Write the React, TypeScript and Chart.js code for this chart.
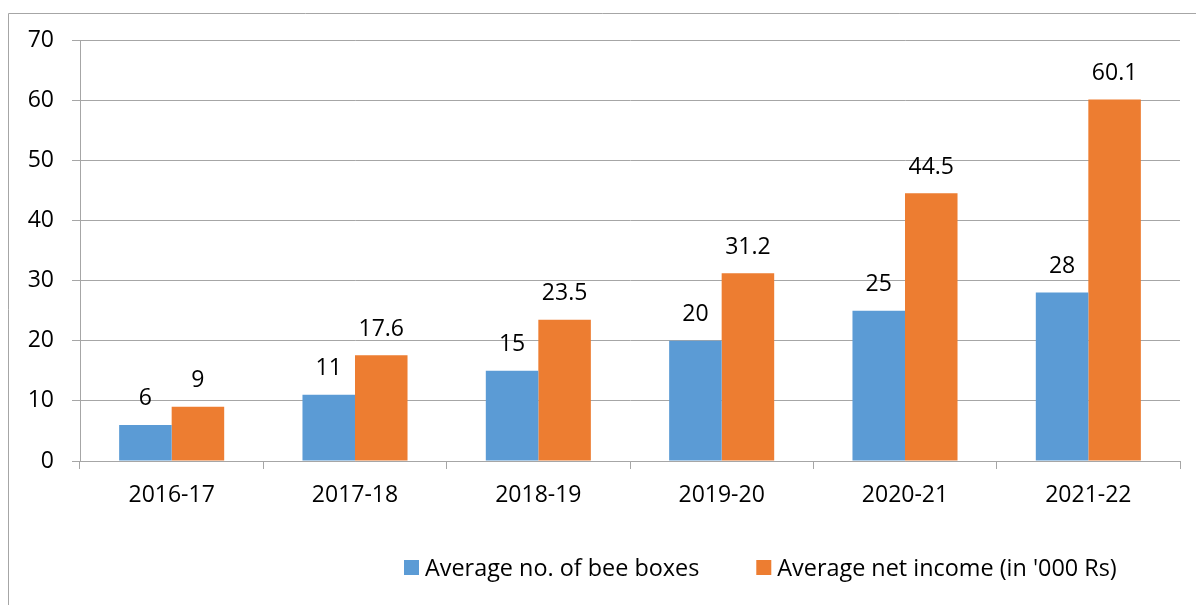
import React, { useEffect, useRef } from "react";
import { Chart, registerables } from "chart.js";

Chart.register(...registerables);

const categories = ["2016-17", "2017-18", "2018-19", "2019-20", "2020-21", "2021-22"];
const beeBoxes = [6, 11, 15, 20, 25, 28];
const netIncome = [9, 17.6, 23.5, 31.2, 44.5, 60.1];
const seriesNames = ["Average no. of bee boxes", "Average net income (in '000 Rs)"];
const seriesColors = ["#5B9BD5", "#ED7D31"];
const yTicks = [0, 10, 20, 30, 40, 50, 60, 70];

const FONT = "'Open Sans'";
const FS = 23;
const LEGEND_FS = 23.4;
const GRID = "#a6a6a6";

const framePlugin = {
  id: "frame",
  beforeDraw(chart: any) {
    const ctx = chart.ctx;
    ctx.save();
    ctx.fillStyle = "#ffffff";
    ctx.fillRect(0, 0, chart.width, chart.height);
    ctx.strokeStyle = "#a6a6a6";
    ctx.lineWidth = 1;
    ctx.beginPath();
    ctx.moveTo(8.5, chart.height + 5);
    ctx.lineTo(8.5, 13.5);
    ctx.lineTo(chart.width + 5, 13.5);
    ctx.stroke();
    ctx.restore();
  },
};

const labelPlugin = {
  id: "barLabels",
  afterDatasetsDraw(chart: any) {
    const ctx = chart.ctx;
    ctx.save();
    ctx.fillStyle = "#000000";
    ctx.font = `${FS}px ${FONT}`;
    ctx.textAlign = "center";
    ctx.textBaseline = "middle";
    chart.data.datasets.forEach((ds: any, di: number) => {
      const meta = chart.getDatasetMeta(di);
      meta.data.forEach((bar: any, i: number) => {
        ctx.fillText(String(ds.data[i]), bar.x, bar.y - 26);
      });
    });
    ctx.restore();
  },
};

const legendPlugin = {
  id: "customLegend",
  afterDraw(chart: any) {
    const ctx = chart.ctx;
    ctx.save();
    ctx.font = `${LEGEND_FS}px ${FONT}`;
    ctx.textBaseline = "middle";
    ctx.textAlign = "left";
    let x = 404;
    const yMid = 569;
    chart.data.datasets.forEach((ds: any) => {
      ctx.fillStyle = ds.backgroundColor;
      ctx.fillRect(x, yMid - 9, 15, 15);
      ctx.fillStyle = "#000000";
      ctx.fillText(ds.label, x + 21, yMid);
      x += 21 + ctx.measureText(ds.label).width + 57;
    });
    ctx.restore();
  },
};

export default function App() {
  const ref = useRef<HTMLCanvasElement | null>(null);
  useEffect(() => {
    if (!ref.current) return;
    const chart = new Chart(ref.current, {
      type: "bar",
      data: {
        labels: categories,
        datasets: [
          { label: seriesNames[0], data: beeBoxes, backgroundColor: seriesColors[0] },
          { label: seriesNames[1], data: netIncome, backgroundColor: seriesColors[1] },
        ],
      },
      options: {
        responsive: false,
        animation: false,
        devicePixelRatio: 1,
        layout: { padding: { top: 40, right: 16, left: 0, bottom: 0 } },
        datasets: { bar: { categoryPercentage: 0.573, barPercentage: 1 } },
        plugins: {
          legend: { display: false },
          tooltip: { enabled: false },
        },
        scales: {
          x: {
            grid: { display: true, drawOnChartArea: false, drawTicks: true, tickLength: 8, color: GRID, offset: true },
            border: { display: true, color: GRID },
            ticks: { color: "#000000", font: { family: FONT, size: FS }, padding: 13, maxRotation: 0 },
            afterFit: (s: any) => { s.height = 144; },
          },
          y: {
            min: 0,
            max: 70,
            afterBuildTicks: (s: any) => { s.ticks = yTicks.map((v) => ({ value: v })); },
            grid: { color: GRID, tickLength: 8 },
            border: { display: true, color: GRID },
            ticks: { color: "#000000", font: { family: FONT, size: FS }, padding: 18 },
            afterFit: (s: any) => { s.width = 80; },
          },
        },
      },
      plugins: [framePlugin, labelPlugin, legendPlugin],
    });
    return () => chart.destroy();
  }, []);
  return (
    <div style={{ position: "absolute", left: 0, top: 0, width: 1196, height: 605 }}>
      <canvas ref={ref} width={1196} height={605} />
    </div>
  );
}
